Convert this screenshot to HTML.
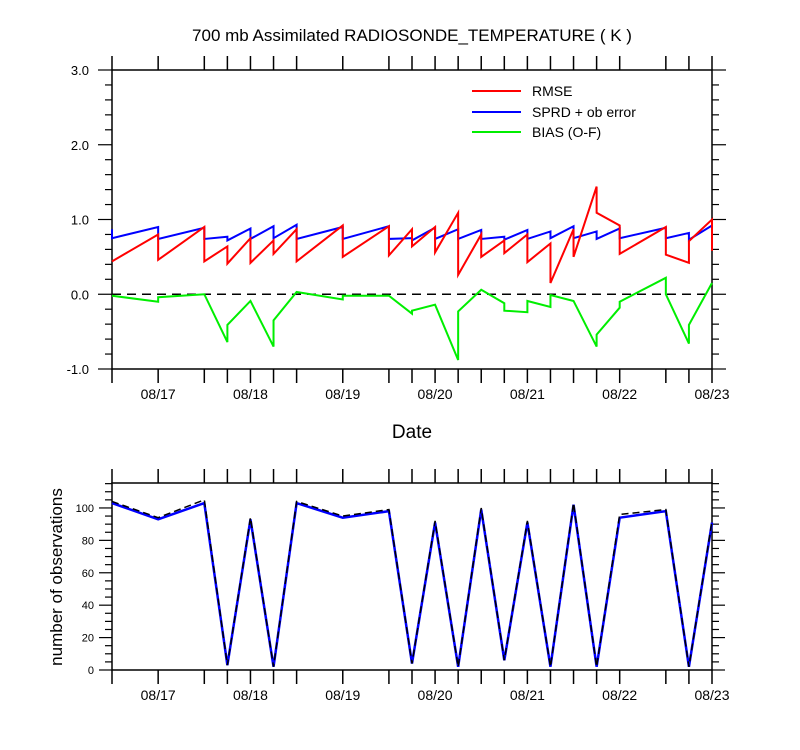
<!DOCTYPE html>
<html><head><meta charset="utf-8"><style>
body{margin:0;background:#fff}
svg{display:block;font-family:"Liberation Sans",sans-serif}
</style></head><body>
<svg id="c" width="800" height="750">
<text x="412" y="41" font-size="17" text-anchor="middle">700 mb Assimilated RADIOSONDE_TEMPERATURE ( K )</text>
<text x="412" y="438" font-size="19" text-anchor="middle">Date</text>
<text transform="translate(62,577) rotate(-90)" font-size="17" text-anchor="middle">number of observations</text>
<g>
<line x1="472" y1="91" x2="521" y2="91" stroke="#ff0000" stroke-width="2"/>
<text x="532" y="96" font-size="14">RMSE</text>
<line x1="472" y1="112" x2="521" y2="112" stroke="#0000ff" stroke-width="2"/>
<text x="532" y="117" font-size="14">SPRD + ob error</text>
<line x1="472" y1="132" x2="521" y2="132" stroke="#00ee00" stroke-width="2"/>
<text x="532" y="137" font-size="14">BIAS (O-F)</text>
</g>
</svg>
<script>
// times in hours since 08/16 00Z; each series is [time, value] pairs (repeated times = jumps)
const dayLabels=["08/17","08/18","08/19","08/20","08/21","08/22","08/23"];
const tickTimes=[12,24,36,42,48,54,60,72,84,90,96,102,108,114,120,126,132,138,144,156,162,168];
const rmseT=[12,24,24,36,36,42,42,48,48,54,54,60,60,72,72,84,84,90,90,96,96,102,102,108,108,114,114,120,120,126,126,132,132,138,138,144,144,156,156,162,162,168,168];
const rmseV=[0.44,0.80,0.46,0.90,0.44,0.64,0.41,0.75,0.42,0.72,0.54,0.87,0.44,0.92,0.50,0.91,0.52,0.87,0.64,0.90,0.56,1.09,0.26,0.80,0.50,0.72,0.55,0.80,0.43,0.68,0.15,0.87,0.50,1.44,1.09,0.92,0.54,0.90,0.53,0.42,0.71,1.00,0.58];
const sprdT=[12,12,24,24,36,36,42,42,48,48,54,54,60,60,72,72,84,84,90,90,96,96,102,102,108,108,114,114,120,120,126,126,132,132,138,138,144,144,156,156,162,162,168];
const sprdV=[0.87,0.75,0.90,0.74,0.89,0.74,0.77,0.72,0.88,0.74,0.91,0.75,0.93,0.74,0.90,0.74,0.91,0.74,0.75,0.72,0.89,0.74,0.87,0.74,0.86,0.74,0.77,0.73,0.86,0.74,0.84,0.75,0.91,0.75,0.84,0.74,0.88,0.75,0.89,0.75,0.82,0.73,0.92];
const biasT=[12,24,24,36,42,42,48,54,54,60,72,72,84,90,90,96,102,102,108,114,114,120,120,126,126,132,138,138,144,144,156,156,162,162,168];
const biasV=[-0.02,-0.10,-0.04,0.00,-0.64,-0.41,-0.09,-0.70,-0.35,0.03,-0.07,-0.02,-0.02,-0.26,-0.22,-0.14,-0.88,-0.23,0.06,-0.12,-0.22,-0.24,-0.09,-0.17,-0.01,-0.09,-0.70,-0.54,-0.18,-0.10,0.22,0.00,-0.66,-0.41,0.15];
const obsT=[12,24,36,42,48,54,60,72,84,90,96,102,108,114,120,126,132,138,144,156,162,168];
const nUsed=[103,93,103,3,93,2,103,94,98,4,91,2,99,6,91,2,102,2,94,98,2,91];
const nPoss=[104,94,105,3,94,2,104,95,99,4,92,2,100,6,92,2,103,2,96,99,2,92];

const svg=document.getElementById('c');
const NS='http://www.w3.org/2000/svg';
function mk(tag,attrs,parent){const e=document.createElementNS(NS,tag);for(const k in attrs)e.setAttribute(k,attrs[k]);(parent||svg).appendChild(e);return e;}
const X0=112,X1=712,T0=12,T1=168;
const xs=t=>X0+(t-T0)*(X1-X0)/(T1-T0);
const yTop=v=>70+(3-v)*(369-70)/4;
const yBot=v=>670-v*(670-483)/115.4;

function frame(top,bot,name){
  const r=mk('rect',{x:X0,y:top,width:X1-X0,height:bot-top,fill:'none',stroke:'#000','stroke-width':1.5});
  
  
  tickTimes.forEach(t=>{
    mk('line',{x1:xs(t),y1:top,x2:xs(t),y2:top-14,stroke:'#000','stroke-width':1.5});
    mk('line',{x1:xs(t),y1:bot,x2:xs(t),y2:bot+14,stroke:'#000','stroke-width':1.5});
  });
  dayLabels.forEach((d,i)=>{
    const tx=mk('text',{x:xs(24*(i+1)),y:bot+30,'font-size':14,'text-anchor':'middle'});
    tx.textContent=d;
    
    
  });
}
frame(70,369,'top-plot-frame');
frame(483,670,'bottom-plot-frame');

// top y axis
for(let k=-5;k<=15;k++){const v=k*0.2;const y=yTop(v);const major=(k%5===0);const L=major?14:7;
  mk('line',{x1:X0,y1:y,x2:X0-L,y2:y,stroke:'#000','stroke-width':1.2});
  mk('line',{x1:X1,y1:y,x2:X1+L,y2:y,stroke:'#000','stroke-width':1.2});
  if(major){const tx=mk('text',{x:89,y:y+5,'font-size':13,'text-anchor':'end'});tx.textContent=v.toFixed(1);
    
    }
}
// bottom y axis
for(let v=0;v<=115;v+=5){const y=yBot(v);const major=(v%20===0);const L=major?13:7;
  mk('line',{x1:X0,y1:y,x2:X0-L,y2:y,stroke:'#000','stroke-width':1.2});
  mk('line',{x1:X1,y1:y,x2:X1+L,y2:y,stroke:'#000','stroke-width':1.2});
  if(major){const tx=mk('text',{x:94,y:y+4,'font-size':11,'text-anchor':'end'});tx.textContent=v;
    
    }
}
// zero line
const z=mk('line',{x1:X0,y1:yTop(0),x2:X1,y2:yTop(0),stroke:'#000','stroke-width':1.5,'stroke-dasharray':'9,6'});



function series(T,V,yf,color,name,dash,w){
  const p=mk('polyline',{points:T.map((t,i)=>xs(t)+','+yf(V[i])).join(' '),fill:'none',stroke:color,'stroke-width':w||2,'stroke-linejoin':'miter'});
  if(dash)p.setAttribute('stroke-dasharray',dash);
  
  
}
series(sprdT,sprdV,yTop,'#0000ff','sprd-line');
series(rmseT,rmseV,yTop,'#ff0000','rmse-line');
series(biasT,biasV,yTop,'#00ee00','bias-line');
series(obsT,nUsed,yBot,'#0000ff','obs-used-line',null,2.5);
series(obsT,nPoss,yBot,'#000','obs-possible-line','7,4',1.5);
</script>
</body></html>
